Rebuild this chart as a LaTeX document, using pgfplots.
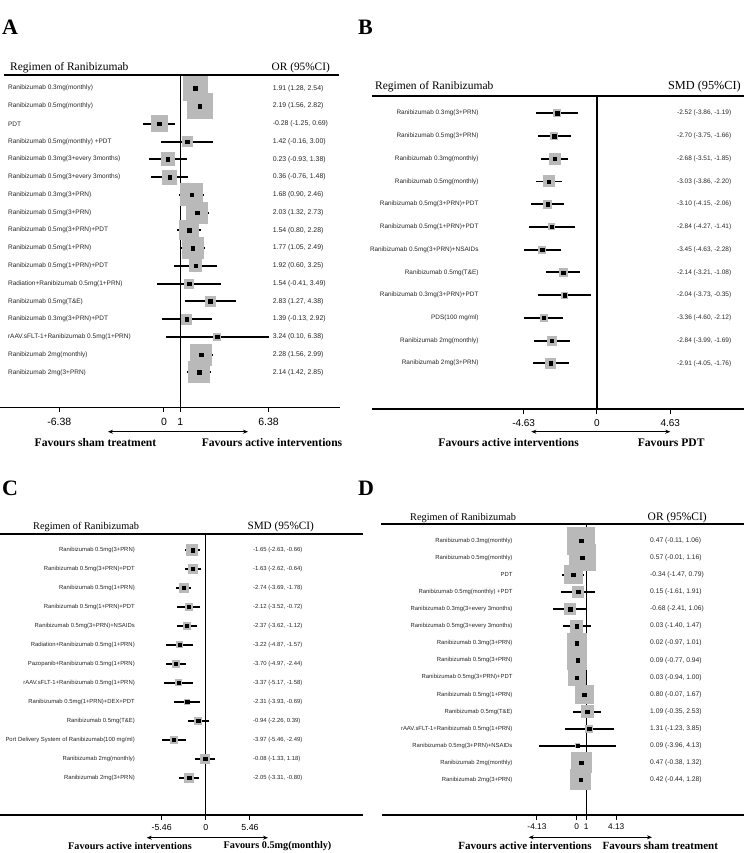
\documentclass[border=0pt]{standalone}
\usepackage{fontspec}
\setmainfont{Liberation Serif}
\setsansfont{Liberation Sans}
\usepackage{pgfplots}
\pgfplotsset{compat=1.18}
\usepackage{pgfplotstable}
\usetikzlibrary{arrows.meta}
\definecolor{boxgray}{RGB}{185,185,185}

% row; estimate; lower; upper; half box side (pt); label; CI text
\pgfplotstableread[col sep=semicolon]{
row;est;lo;hi;h;label;ci
1;1.91;1.28;2.54;12;Ranibizumab 0.3mg(monthly);1.91 (1.28, 2.54)
2;2.19;1.56;2.82;12.5;Ranibizumab 0.5mg(monthly);2.19 (1.56, 2.82)
3;-0.28;-1.25;0.69;8;PDT;-0.28 (-1.25, 0.69)
4;1.42;-0.16;3.00;5;Ranibizumab 0.5mg(monthly) +PDT;1.42 (-0.16, 3.00)
5;0.23;-0.93;1.38;6.5;Ranibizumab 0.3mg(3+every 3months);0.23 (-0.93, 1.38)
6;0.36;-0.76;1.48;7;Ranibizumab 0.5mg(3+every 3months);0.36 (-0.76, 1.48)
7;1.68;0.90;2.46;11;Ranibizumab 0.3mg(3+PRN);1.68 (0.90, 2.46)
8;2.03;1.32;2.73;10.5;Ranibizumab 0.5mg(3+PRN);2.03 (1.32, 2.73)
9;1.54;0.80;2.28;9.5;Ranibizumab 0.5mg(3+PRN)+PDT;1.54 (0.80, 2.28)
10;1.77;1.05;2.49;10.5;Ranibizumab 0.5mg(1+PRN);1.77 (1.05, 2.49)
11;1.92;0.60;3.25;6;Ranibizumab 0.5mg(1+PRN)+PDT;1.92 (0.60, 3.25)
12;1.54;-0.41;3.49;4.5;Radiation+Ranibizumab 0.5mg(1+PRN);1.54 (-0.41, 3.49)
13;2.83;1.27;4.38;5;Ranibizumab 0.5mg(T\&E);2.83 (1.27, 4.38)
14;1.39;-0.13;2.92;5;Ranibizumab 0.3mg(3+PRN)+PDT;1.39 (-0.13, 2.92)
15;3.24;0.10;6.38;3.5;rAAV.sFLT-1+Ranibizumab 0.5mg(1+PRN);3.24 (0.10, 6.38)
16;2.28;1.56;2.99;10.5;Ranibizumab 2mg(monthly);2.28 (1.56, 2.99)
17;2.14;1.42;2.85;10.5;Ranibizumab 2mg(3+PRN);2.14 (1.42, 2.85)
}\dataA

\pgfplotstableread[col sep=semicolon]{
row;est;lo;hi;h;label;ci
1;-2.52;-3.86;-1.19;3.5;Ranibizumab 0.3mg(3+PRN);-2.52 (-3.86, -1.19)
2;-2.70;-3.75;-1.66;3.5;Ranibizumab 0.5mg(3+PRN);-2.70 (-3.75, -1.66)
3;-2.68;-3.51;-1.85;5.5;Ranibizumab 0.3mg(monthly);-2.68 (-3.51, -1.85)
4;-3.03;-3.86;-2.20;5.5;Ranibizumab 0.5mg(monthly);-3.03 (-3.86, -2.20)
5;-3.10;-4.15;-2.06;4;Ranibizumab 0.5mg(3+PRN)+PDT;-3.10 (-4.15, -2.06)
6;-2.84;-4.27;-1.41;3;Ranibizumab 0.5mg(1+PRN)+PDT;-2.84 (-4.27, -1.41)
7;-3.45;-4.63;-2.28;3.5;Ranibizumab 0.5mg(3+PRN)+NSAIDs;-3.45 (-4.63, -2.28)
8;-2.14;-3.21;-1.08;4;Ranibizumab 0.5mg(T\&E);-2.14 (-3.21, -1.08)
9;-2.04;-3.73;-0.35;3;Ranibizumab 0.3mg(3+PRN)+PDT;-2.04 (-3.73, -0.35)
10;-3.36;-4.60;-2.12;3.5;PDS(100 mg/ml);-3.36 (-4.60, -2.12)
11;-2.84;-3.99;-1.69;4.5;Ranibizumab 2mg(monthly);-2.84 (-3.99, -1.69)
12;-2.91;-4.05;-1.76;5;Ranibizumab 2mg(3+PRN);-2.91 (-4.05, -1.76)
}\dataB

\pgfplotstableread[col sep=semicolon]{
row;est;lo;hi;h;label;ci
1;-1.65;-2.63;-0.66;5.5;Ranibizumab 0.5mg(3+PRN);-1.65 (-2.63, -0.66)
2;-1.63;-2.62;-0.64;4.5;Ranibizumab 0.5mg(3+PRN)+PDT;-1.63 (-2.62, -0.64)
3;-2.74;-3.69;-1.78;4.5;Ranibizumab 0.5mg(1+PRN);-2.74 (-3.69, -1.78)
4;-2.12;-3.52;-0.72;3.5;Ranibizumab 0.5mg(1+PRN)+PDT;-2.12 (-3.52, -0.72)
5;-2.37;-3.62;-1.12;3.5;Ranibizumab 0.5mg(3+PRN)+NSAIDs;-2.37 (-3.62, -1.12)
6;-3.22;-4.87;-1.57;3;Radiation+Ranibizumab 0.5mg(1+PRN);-3.22 (-4.87, -1.57)
7;-3.70;-4.97;-2.44;3.5;Pazopanib+Ranibizumab 0.5mg(1+PRN);-3.70 (-4.97, -2.44)
8;-3.37;-5.17;-1.58;3;rAAV.sFLT-1+Ranibizumab 0.5mg(1+PRN);-3.37 (-5.17, -1.58)
9;-2.31;-3.93;-0.69;2.5;Ranibizumab 0.5mg(1+PRN)+DEX+PDT;-2.31 (-3.93, -0.69)
10;-0.94;-2.26;0.39;3.5;Ranibizumab 0.5mg(T\&E);-0.94 (-2.26, 0.39)
11;-3.97;-5.46;-2.49;3.5;Port Delivery System of Ranibizumab(100 mg/ml);-3.97 (-5.46, -2.49)
12;-0.08;-1.33;1.18;4.5;Ranibizumab 2mg(monthly);-0.08 (-1.33, 1.18)
13;-2.05;-3.31;-0.80;4.5;Ranibizumab 2mg(3+PRN);-2.05 (-3.31, -0.80)
}\dataC

\pgfplotstableread[col sep=semicolon]{
row;est;lo;hi;h;label;ci
1;0.47;-0.11;1.06;13.5;Ranibizumab 0.3mg(monthly);0.47 (-0.11, 1.06)
2;0.57;-0.01;1.16;13;Ranibizumab 0.5mg(monthly);0.57 (-0.01, 1.16)
3;-0.34;-1.47;0.79;9;PDT;-0.34 (-1.47, 0.79)
4;0.15;-1.61;1.91;5.5;Ranibizumab 0.5mg(monthly) +PDT;0.15 (-1.61, 1.91)
5;-0.68;-2.41;1.06;5.5;Ranibizumab 0.3mg(3+every 3months);-0.68 (-2.41, 1.06)
6;0.03;-1.40;1.47;6;Ranibizumab 0.5mg(3+every 3months);0.03 (-1.40, 1.47)
7;0.02;-0.97;1.01;9.5;Ranibizumab 0.3mg(3+PRN);0.02 (-0.97, 1.01)
8;0.09;-0.77;0.94;9.5;Ranibizumab 0.5mg(3+PRN);0.09 (-0.77, 0.94)
9;0.03;-0.94;1.00;8.5;Ranibizumab 0.5mg(3+PRN)+PDT;0.03 (-0.94, 1.00)
10;0.80;-0.07;1.67;9;Ranibizumab 0.5mg(1+PRN);0.80 (-0.07, 1.67)
11;1.09;-0.35;2.53;6;Ranibizumab 0.5mg(T\&E);1.09 (-0.35, 2.53)
12;1.31;-1.23;3.85;3.5;rAAV.sFLT-1+Ranibizumab 0.5mg(1+PRN);1.31 (-1.23, 3.85)
13;0.09;-3.96;4.13;2;Ranibizumab 0.5mg(3+PRN)+NSAIDs;0.09 (-3.96, 4.13)
14;0.47;-0.38;1.32;10;Ranibizumab 2mg(monthly);0.47 (-0.38, 1.32)
15;0.42;-0.44;1.28;10;Ranibizumab 2mg(3+PRN);0.42 (-0.44, 1.28)
}\dataD

\pgfplotsset{
  forest/.style={
    scale only axis, clip=false, anchor=north west,
    axis x line*=bottom, axis y line=none,
    x axis line style={-, line width=1.1pt},
    tick align=outside, major tick length=4.5pt, xtick pos=left,
    xtick style={line width=1pt, black},
    ytick=\empty,
  },
}

% #1 table, #2 reference x, #3 y top, #4 y bottom,
% #5 label x, #6 label anchor, #7 label font, #8 value x, #9 value font
\newcommand{\forestbody}[9]{%
  \addplot[black, line width=1.1pt] coordinates {(#2,#3) (#2,#4)};
  \addplot[boxgray, scatter, only marks, mark=square*,
    mark options={draw=boxgray, fill=boxgray, line width=0pt},
    scatter/use mapped color={draw=boxgray, fill=boxgray},
    visualization depends on={\thisrow{h} \as \hs},
    scatter/@pre marker code/.append style={/tikz/mark size=\hs}]
    table[x=est, y expr=-\thisrow{row}] {#1};
  \addplot[only marks, mark=square*, mark size=1.7pt, black,
    error bars/.cd, x dir=both, x explicit, error mark=none,
    error bar style={line width=1.9pt}]
    table[x=est, y expr=-\thisrow{row},
      x error plus expr=\thisrow{hi}-\thisrow{est},
      x error minus expr=\thisrow{est}-\thisrow{lo}] {#1};
  \addplot[only marks, mark=none, nodes near coords, point meta=explicit symbolic,
    every node near coord/.append style={anchor=#6, font=#7, inner sep=0pt, text=black!85}]
    table[x expr=#5, y expr=-\thisrow{row}, meta=label] {#1};
  \addplot[only marks, mark=none, nodes near coords, point meta=explicit symbolic,
    every node near coord/.append style={anchor=west, font=#9, inner sep=0pt, text=black!85}]
    table[x expr=#8, y expr=-\thisrow{row}, meta=ci] {#1};
}

\newcommand{\fs}[1]{\fontsize{#1}{#1}\selectfont}

\begin{document}
\begin{tikzpicture}
\path[use as bounding box] (0pt,0pt) rectangle (744pt,-853pt);

% ---------------- Panel A ----------------
\begin{axis}[forest, at={(0pt,-75pt)}, width=340pt, height=332.3pt,
  xmin=-9.99, xmax=10.73, ymin=-18.97, ymax=-0.251,
  xtick={-6.38,0,1,6.38}, xticklabels={-6.38,0,1,6.38},
  xticklabel style={font=\sffamily\fs{10.5}, yshift=-3pt}]
  \forestbody{\dataA}{1}{-0.251}{-18.97}{-9.51}{west}{\sffamily\fs{6.5}}{6.62}{\sffamily\fs{6.9}}
\end{axis}
\draw[line width=1.8pt] (4pt,-75pt) -- (339pt,-75pt);
\node[anchor=base west, font=\fs{22}\bfseries, inner sep=0pt] at (2pt,-35pt) {A};
\node[anchor=base west, font=\fs{11.5}, inner sep=0pt] at (10pt,-71pt) {Regimen of Ranibizumab};
\node[anchor=base east, font=\fs{11.3}, inner sep=0pt] at (330pt,-71pt) {OR (95\%CI)};
\draw[{Stealth[length=5pt,width=4pt]}-{Stealth[length=5pt,width=4pt]}, line width=1pt] (108pt,-431.7pt) -- (248pt,-431.7pt);
\node[font=\fs{11.6}\bfseries, inner sep=0pt] at (95.5pt,-442.7pt) {Favours sham treatment};
\node[font=\fs{11.6}\bfseries, inner sep=0pt] at (272pt,-442.7pt) {Favours active interventions};

% ---------------- Panel B ----------------
\begin{axis}[forest, at={(372pt,-96pt)}, width=372pt, height=313pt,
  xmin=-14.21, xmax=9.29, ymin=-14.01, ymax=-0.239,
  xtick={-4.63,0,4.63}, xticklabels={-4.63,0,4.63},
  xticklabel style={font=\sffamily\fs{10}, yshift=-2pt}]
  \forestbody{\dataB}{0}{-0.239}{-14.01}{-7.47}{east}{\sffamily\fs{6.4}}{5.05}{\sffamily\fs{6.5}}
\end{axis}
\draw[line width=1.8pt] (372pt,-96pt) -- (744pt,-96pt);
\node[anchor=base west, font=\fs{22}\bfseries, inner sep=0pt] at (358pt,-35pt) {B};
\node[anchor=base west, font=\fs{11.5}, inner sep=0pt] at (375pt,-90pt) {Regimen of Ranibizumab};
\node[anchor=base east, font=\fs{12.3}, inner sep=0pt] at (741pt,-90pt) {SMD (95\%CI)};
\draw[{Stealth[length=5pt,width=4pt]}-{Stealth[length=5pt,width=4pt]}, line width=1pt] (531.3pt,-431.7pt) -- (670.3pt,-431.7pt);
\node[font=\fs{11.6}\bfseries, inner sep=0pt] at (508.7pt,-442.7pt) {Favours active interventions};
\node[font=\fs{11.6}\bfseries, inner sep=0pt] at (671.2pt,-442.7pt) {Favours PDT};

% ---------------- Panel C ----------------
\begin{axis}[forest, at={(0pt,-534.3pt)}, width=363pt, height=280.7pt,
  xmin=-25.44, xmax=19.43, ymin=-14.97, ymax=-0.172,
  xtick={-5.46,0,5.46}, xticklabels={-5.46,0,5.46},
  xticklabel style={font=\sffamily\fs{8.8}, yshift=-1pt}]
  \forestbody{\dataC}{0}{-0.172}{-14.97}{-8.76}{east}{\sffamily\fs{5.9}}{5.83}{\sffamily\fs{5.9}}
\end{axis}
\draw[line width=1.8pt] (0pt,-534.3pt) -- (363pt,-534.3pt);
\node[anchor=base west, font=\fs{22}\bfseries, inner sep=0pt] at (2pt,-495pt) {C};
\node[anchor=base west, font=\fs{10.3}, inner sep=0pt] at (33pt,-529pt) {Regimen of Ranibizumab};
\node[anchor=base east, font=\fs{11.2}, inner sep=0pt] at (314pt,-529pt) {SMD (95\%CI)};
\draw[{Stealth[length=5pt,width=4pt]}-{Stealth[length=5pt,width=4pt]}, line width=1pt] (146.7pt,-837.7pt) -- (268pt,-837.7pt);
\node[font=\fs{10.2}\bfseries, inner sep=0pt] at (130pt,-845.7pt) {Favours active interventions};
\node[font=\fs{10.2}\bfseries, inner sep=0pt] at (277.5pt,-845.7pt) {Favours 0.5mg(monthly)};

% ---------------- Panel D ----------------
\begin{axis}[forest, at={(382pt,-524.3pt)}, width=362pt, height=290.7pt,
  xmin=-20.27, xmax=17.44, ymin=-17.05, ymax=-0.04,
  xtick={-4.13,0,1,4.13}, xticklabels={-4.13,0,1,4.13},
  xticklabel style={font=\sffamily\fs{8.3}, yshift=-1pt}]
  \forestbody{\dataD}{1}{-0.04}{-17.05}{-6.66}{east}{\sffamily\fs{5.9}}{7.65}{\sffamily\fs{6.7}}
\end{axis}
\draw[line width=1.8pt] (381pt,-524.3pt) -- (744pt,-524.3pt);
\node[anchor=base west, font=\fs{22}\bfseries, inner sep=0pt] at (358pt,-495pt) {D};
\node[anchor=base west, font=\fs{10.3}, inner sep=0pt] at (410pt,-520.5pt) {Regimen of Ranibizumab};
\node[anchor=base east, font=\fs{11.5}, inner sep=0pt] at (707pt,-520.5pt) {OR (95\%CI)};
\draw[{Stealth[length=5pt,width=4pt]}-{Stealth[length=5pt,width=4pt]}, line width=1pt] (528.7pt,-837.3pt) -- (652pt,-837.3pt);
\node[font=\fs{11}\bfseries, inner sep=0pt] at (525pt,-845.7pt) {Favours active interventions};
\node[font=\fs{11}\bfseries, inner sep=0pt] at (660.3pt,-845.7pt) {Favours sham treatment};
\end{tikzpicture}
\end{document}
